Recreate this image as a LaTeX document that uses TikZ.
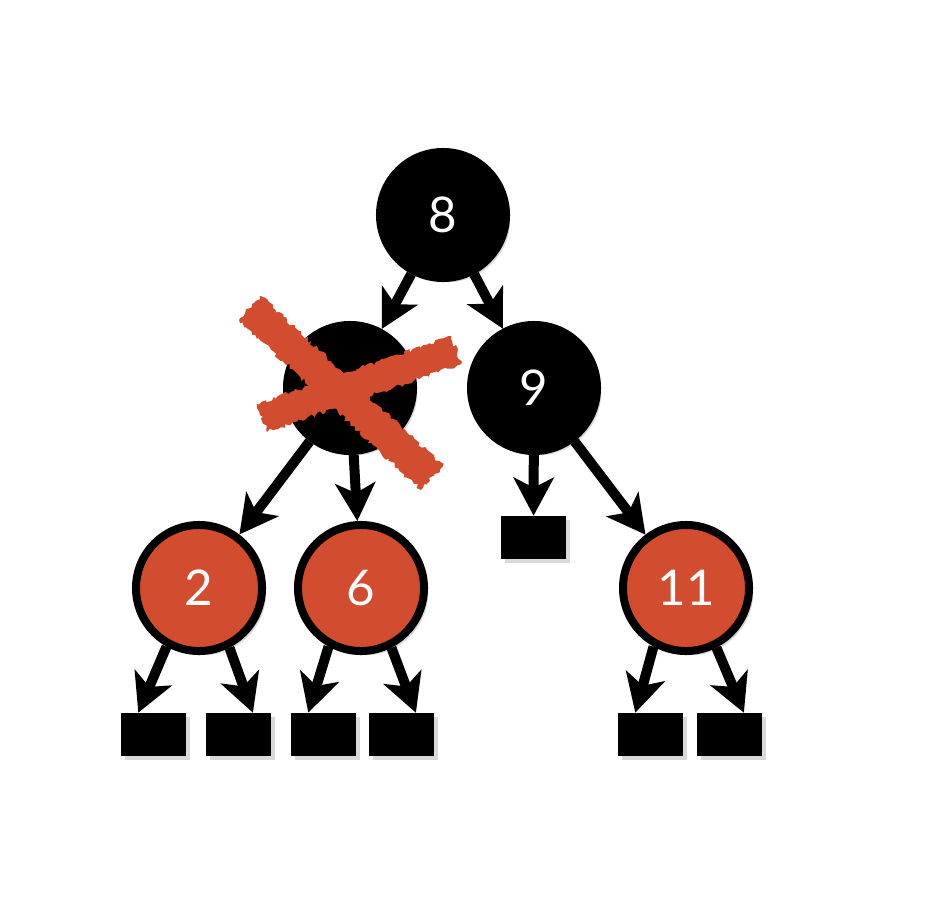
\documentclass[tikz,border=0pt]{standalone}
\usepackage{fontspec}
\setsansfont{Lato}
\usetikzlibrary{arrows.meta,shadows,decorations.pathmorphing}
\definecolor{rbred}{RGB}{210,76,48}
\begin{document}
\begin{tikzpicture}[x=0.025cm,y=-0.025cm,
  shd/.style={drop shadow={shadow xshift=3pt,shadow yshift=-3pt,opacity=0.3}},
  blk/.style={circle,fill=black,draw=black,line width=0.2cm,minimum size=3.15cm,
    text=white,font=\sffamily\fontsize{35}{35}\selectfont,shd},
  red/.style={blk,fill=rbred},
  leaf/.style={rectangle,fill=black,minimum width=1.625cm,minimum height=1.075cm,
    inner sep=0pt,shd},
  edge/.style={line width=0.25cm,-{Stealth[length=0.95cm,width=1cm,inset=0.25cm]}}]
  \useasboundingbox (0,0) rectangle (926,906);
  % nodes
  \node[blk] (n8) at (443,215) {8};
  \node[blk] (nx) at (350,388) {};
  \node[blk] (n9) at (534,388) {9};
  \node[red] (n2) at (199,588) {2};
  \node[red] (n6) at (361,588) {6};
  \node[red] (n11) at (686,588) {11};
  \node[leaf] (l9) at (533.5,537.5) {};
  \node[leaf] (l1) at (153.5,734.5) {};
  \node[leaf] (l2) at (238.5,734.5) {};
  \node[leaf] (l3) at (323.5,734.5) {};
  \node[leaf] (l4) at (401.5,734.5) {};
  \node[leaf] (l5) at (650.5,734.5) {};
  \node[leaf] (l6) at (729.5,734.5) {};
  % edges
  \draw[edge] (n8) -- (nx);
  \draw[edge] (n8) -- (n9);
  \draw[edge] (nx) -- (n2);
  \draw[edge] (nx) -- (n6);
  \draw[edge] (n9) -- (l9);
  \draw[edge] (n9) -- (n11);
  \draw[edge] (n2.241) -- ([xshift=-0.38cm]l1.north);
  \draw[edge] (n2.297) -- ([xshift=0.36cm]l2.north);
  \draw[edge] (n6.241) -- ([xshift=-0.38cm]l3.north);
  \draw[edge] (n6.297) -- ([xshift=0.36cm]l4.north);
  \draw[edge] (n11.241) -- ([xshift=-0.38cm]l5.north);
  \draw[edge] (n11.297) -- ([xshift=0.36cm]l6.north);
  % the red cross
  \pgfmathsetseed{7}
  \fill[rbred,decorate,decoration={random steps,segment length=2pt,amplitude=1.5pt}]
    (239,320) -- (261,296) -- (443,466) -- (421,490) -- cycle;
  \fill[rbred,decorate,decoration={random steps,segment length=2pt,amplitude=1.5pt}]
    (267,432) -- (257,404) -- (451,336) -- (461,364) -- cycle;
\end{tikzpicture}
\end{document}
